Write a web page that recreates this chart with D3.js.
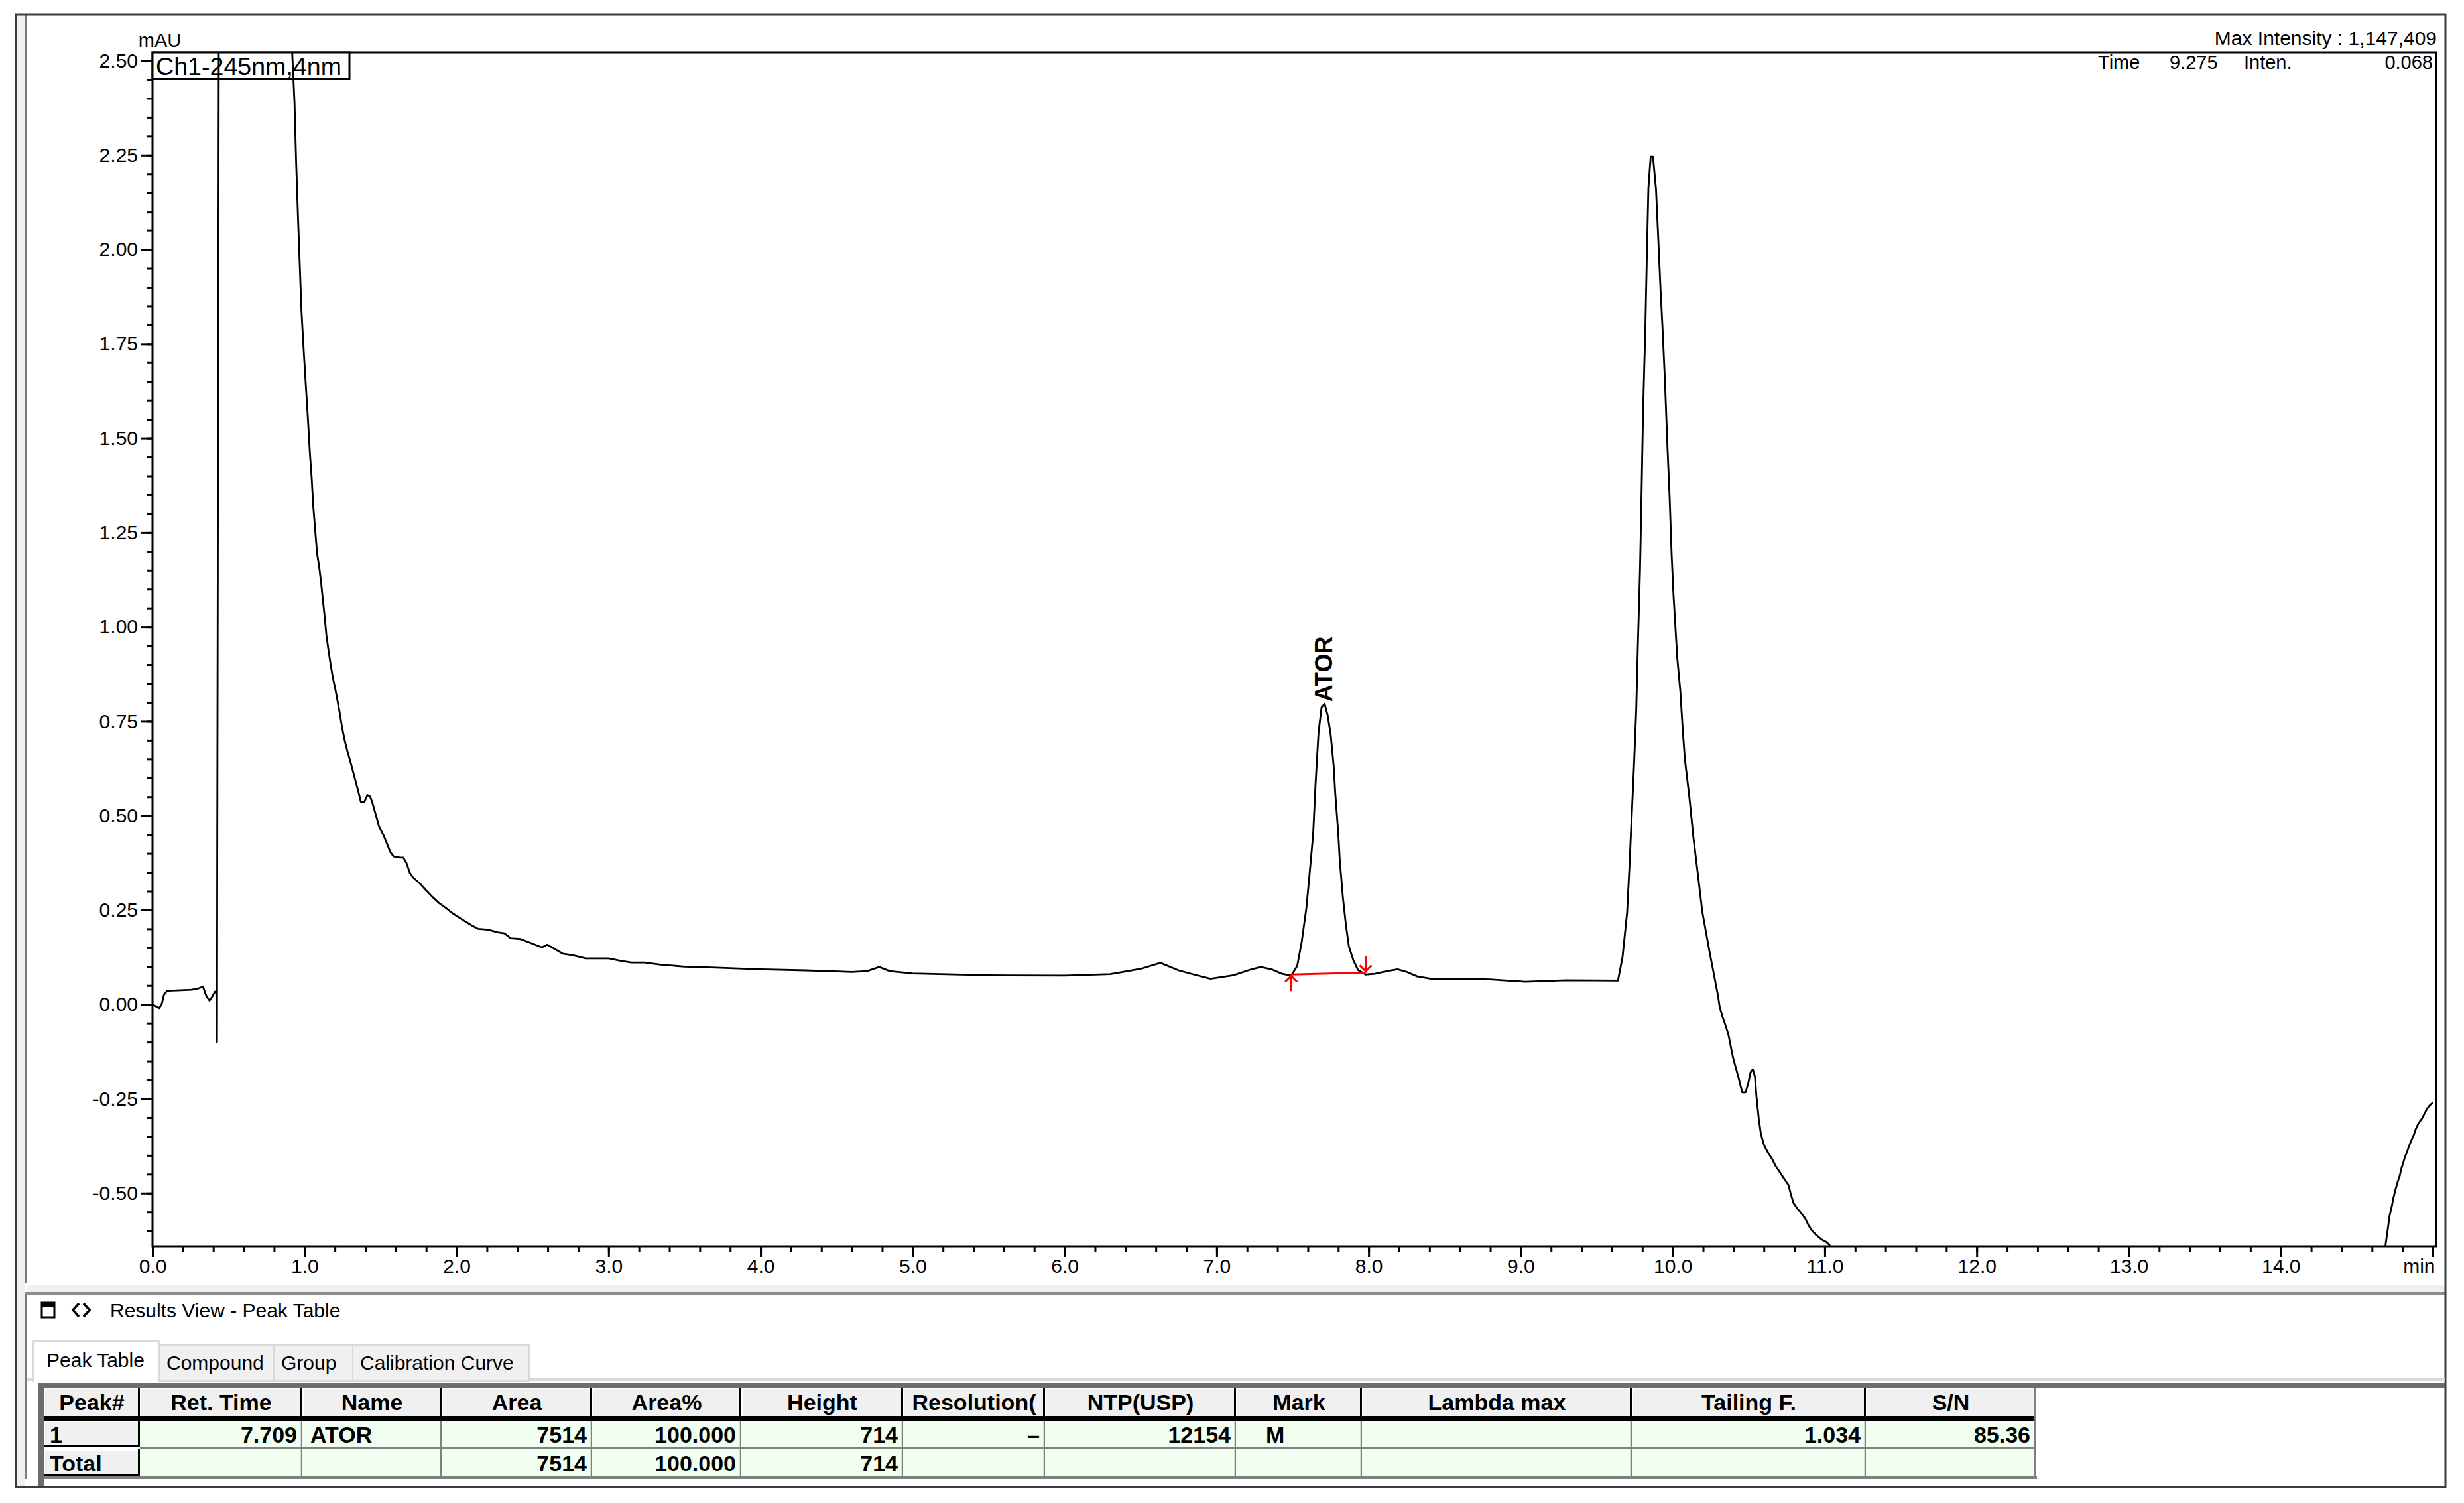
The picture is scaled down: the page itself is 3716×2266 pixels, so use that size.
<!DOCTYPE html>
<html>
<head>
<meta charset="utf-8">
<script src="https://cdn.jsdelivr.net/npm/d3@7/dist/d3.min.js"></script>
<style>
html,body{margin:0;padding:0;background:#fff;overflow:hidden;}
svg{display:block;}
</style>
</head>
<body>
<svg id="root" width="3716" height="2266"></svg>
<script>
// ---------------- DATA ----------------
const timeMin = [
0.000,0.043,0.060,0.075,0.096,0.160,0.257,0.300,0.332,0.354,0.375,0.395,0.411,0.420,0.424,0.426,0.438,0.900,
0.919,0.934,0.945,0.957,0.969,0.980,0.995,1.008,1.021,1.035,1.047,1.057,1.070,1.083,1.097,1.110,1.120,1.131,
1.144,1.158,1.171,1.185,1.200,1.214,1.232,1.246,1.264,1.286,1.307,1.328,1.350,1.371,1.393,1.414,1.431,1.446,
1.468,1.489,1.521,1.543,1.564,1.586,1.628,1.650,1.671,1.693,1.714,1.757,1.800,1.843,1.886,1.928,1.971,2.036,
2.100,2.143,2.207,2.271,2.314,2.357,2.421,2.486,2.561,2.597,2.657,2.700,2.764,2.850,3.000,3.086,3.150,3.235,
3.343,3.500,3.650,4.000,4.300,4.600,4.700,4.780,4.850,5.000,5.500,6.000,6.300,6.500,6.630,6.750,6.850,6.960,
7.110,7.230,7.290,7.360,7.430,7.490,7.530,7.560,7.590,7.610,7.635,7.650,7.670,7.690,7.710,7.730,7.750,7.770,
7.780,7.800,7.810,7.830,7.850,7.870,7.900,7.930,7.980,8.040,8.120,8.190,8.250,8.320,8.410,8.580,8.800,9.030,
9.300,9.640,9.670,9.700,9.715,9.730,9.745,9.760,9.770,9.785,9.795,9.805,9.820,9.830,9.840,9.855,9.870,9.890,
9.905,9.920,9.935,9.950,9.965,9.980,9.993,10.005,10.030,10.050,10.065,10.080,10.110,10.135,10.165,10.195,10.240,
10.280,10.297,10.308,10.326,10.348,10.367,10.384,10.399,10.420,10.435,10.457,10.479,10.497,10.512,10.527,10.541,
10.551,10.566,10.580,10.602,10.624,10.653,10.675,10.704,10.733,10.762,10.777,10.794,10.820,10.849,10.871,10.893,
10.915,10.944,10.980,11.009,11.031,11.060,14.670,14.689,14.703,14.715,14.730,14.740,14.754,14.769,14.783,14.793,
14.805,14.815,14.830,14.845,14.860,14.874,14.888,14.906,14.928,14.942,14.961,14.978,15.000
];
const intensity = [
0.000,-0.010,0.000,0.025,0.036,0.037,0.039,0.042,0.047,0.022,0.010,0.022,0.034,0.030,-0.100,0.440,3.000,3.000,
2.520,2.389,2.228,2.086,1.954,1.835,1.729,1.643,1.560,1.462,1.394,1.322,1.257,1.193,1.157,1.114,1.074,1.033,
0.977,0.937,0.902,0.868,0.840,0.811,0.771,0.736,0.700,0.665,0.635,0.603,0.570,0.536,0.536,0.555,0.551,0.535,
0.503,0.472,0.447,0.425,0.404,0.392,0.389,0.389,0.374,0.348,0.336,0.321,0.302,0.284,0.268,0.256,0.242,0.225,
0.209,0.200,0.198,0.191,0.188,0.175,0.173,0.163,0.151,0.158,0.144,0.134,0.130,0.122,0.122,0.115,0.111,0.111,
0.105,0.100,0.098,0.093,0.090,0.086,0.088,0.099,0.088,0.082,0.077,0.076,0.080,0.094,0.110,0.090,0.079,0.068,
0.077,0.093,0.099,0.093,0.081,0.076,0.102,0.167,0.255,0.340,0.452,0.580,0.720,0.787,0.796,0.766,0.715,0.630,
0.560,0.452,0.380,0.285,0.211,0.153,0.116,0.091,0.079,0.081,0.088,0.093,0.086,0.074,0.068,0.068,0.066,0.060,
0.064,0.063,0.126,0.244,0.362,0.497,0.630,0.780,0.940,1.153,1.355,1.573,1.793,1.986,2.162,2.246,2.246,2.160,
2.028,1.893,1.775,1.640,1.480,1.340,1.190,1.086,0.917,0.830,0.733,0.649,0.547,0.446,0.346,0.244,0.144,
0.060,0.025,-0.005,-0.031,-0.057,-0.081,-0.116,-0.145,-0.175,-0.198,-0.233,-0.233,-0.209,-0.180,-0.172,-0.192,
-0.245,-0.303,-0.344,-0.374,-0.391,-0.409,-0.427,-0.444,-0.462,-0.479,-0.503,-0.526,-0.541,-0.555,-0.567,-0.585,
-0.599,-0.611,-0.623,-0.629,-0.637,-0.680,-0.680,-0.637,-0.597,-0.561,-0.535,-0.514,-0.491,-0.470,-0.453,-0.435,
-0.420,-0.406,-0.391,-0.374,-0.359,-0.347,-0.330,-0.315,-0.303,-0.292,-0.277,-0.268,-0.260
];
const yTickLabels = ["-0.50","-0.25","0.00","0.25","0.50","0.75","1.00","1.25","1.50","1.75","2.00","2.25","2.50"];
const xTickLabels = ["0.0","1.0","2.0","3.0","4.0","5.0","6.0","7.0","8.0","9.0","10.0","11.0","12.0","13.0","14.0","min"];
const xDomain = [0, 15];
const yDomain = [-0.641, 2.522];
const peakNames = ["ATOR"];
const peakTimes = [7.709];
const peakApex = [0.796];
const baselineTimes = [7.49, 7.98];
const baselineValues = [0.079, 0.084];

const channelLabel = "Ch1-245nm,4nm";
const maxIntensityText = "Max Intensity : 1,147,409";
const cursorTexts = ["Time", "9.275", "Inten.", "0.068"];

const tabNames = ["Peak Table", "Compound", "Group", "Calibration Curve"];
const tableHeaders = ["Peak#","Ret. Time","Name","Area","Area%","Height","Resolution(","NTP(USP)","Mark","Lambda max","Tailing F.","S/N"];
const tableRow1 = ["1","7.709","ATOR","7514","100.000","714","\u2013","12154","M","","1.034","85.36"];
const tableRowTotal = ["Total","","","7514","100.000","714","","","","","",""];
const columnAlign = ["left","right","left","right","right","right","right","right","left","right","right","right"];

// ---------------- LAYOUT ----------------
const FONT = "'Liberation Sans', Arial, Helvetica, sans-serif";
const plot = {left: 230, top: 79, right: 3669, bottom: 1879, frameRight: 3674};
const colEdges = [66, 211, 456, 666, 893, 1118, 1362, 1576, 1864, 2054, 2461, 2814, 3070];
const colPad = [9, 8, 12, 8, 8, 8, 8, 8, 45, 8, 8, 8];

const svg = d3.select("#root").attr("font-family", FONT);

svg.append("rect").attr("width", 3716).attr("height", 2266).attr("fill", "#fff");

// window chrome
svg.append("rect").attr("x", 25).attr("y", 23).attr("width", 12).attr("height", 2218).attr("fill", "#f0f0f0");
svg.append("rect").attr("x", 37).attr("y", 23).attr("width", 4).attr("height", 1912).attr("fill", "#7a7a7a");
svg.append("rect").attr("x", 37).attr("y", 1952).attr("width", 4).attr("height", 278).attr("fill", "#7a7a7a");
svg.append("rect").attr("x", 41).attr("y", 1937).attr("width", 3646).attr("height", 11).attr("fill", "#f0f0f0");
svg.append("rect").attr("x", 37).attr("y", 1948).attr("width", 3650).attr("height", 4).attr("fill", "#8c8c8c");
svg.append("rect").attr("x", 24).attr("y", 22).attr("width", 3664).attr("height", 2220)
  .attr("fill", "none").attr("stroke", "#3c3c3c").attr("stroke-width", 3);

// ---------------- CHART ----------------
const x = d3.scaleLinear().domain(xDomain).range([plot.left, plot.right]);
const y = d3.scaleLinear().domain(yDomain).range([plot.bottom, plot.top]);

// frame
svg.append("rect").attr("x", plot.left).attr("y", plot.top)
  .attr("width", plot.frameRight - plot.left).attr("height", plot.bottom - plot.top)
  .attr("fill", "none").attr("stroke", "#000").attr("stroke-width", 3);

// channel label box
const chG = svg.append("g");
chG.append("rect").attr("x", plot.left).attr("y", plot.top).attr("width", 297).attr("height", 40)
  .attr("fill", "#fff").attr("stroke", "#000").attr("stroke-width", 3);
chG.append("text").attr("x", plot.left + 5).attr("y", plot.top + 34).attr("font-size", 37)
  .attr("textLength", 280).attr("lengthAdjust", "spacingAndGlyphs").text(channelLabel);

// trace
svg.append("clipPath").attr("id", "plotClip").append("rect")
  .attr("x", plot.left).attr("y", plot.top).attr("width", plot.frameRight - plot.left).attr("height", plot.bottom - plot.top);
const points = timeMin.map((t, i) => ({t, v: intensity[i]}));
const line = d3.line().x(d => x(d.t)).y(d => y(d.v));
svg.append("path").datum(points).attr("clip-path", "url(#plotClip)")
  .attr("d", line).attr("fill", "none").attr("stroke", "#000").attr("stroke-width", 2.8)
  .attr("stroke-linejoin", "round");

// baseline (red)
const bl = baselineTimes.map((t, i) => ({t, v: baselineValues[i]}));
svg.append("path").datum(bl).attr("d", line).attr("fill", "none").attr("stroke", "#ff0000").attr("stroke-width", 3);
// start marker (arrow pointing up)
const sx = x(bl[0].t), sy = y(bl[0].v);
svg.append("path").attr("d", `M${sx},${sy} V${sy + 25} M${sx - 9},${sy + 11} L${sx},${sy + 2} L${sx + 9},${sy + 11}`)
  .attr("fill", "none").attr("stroke", "#ff0000").attr("stroke-width", 3);
// end marker (arrow pointing down)
const ex = x(bl[1].t), ey = y(bl[1].v);
svg.append("path").attr("d", `M${ex},${ey} V${ey - 25} M${ex - 9},${ey - 11} L${ex},${ey - 2} L${ex + 9},${ey - 11}`)
  .attr("fill", "none").attr("stroke", "#ff0000").attr("stroke-width", 3);

// peak label
peakNames.forEach((name, i) => {
  svg.append("text")
    .attr("transform", `translate(${x(peakTimes[i]) + 12},${y(peakApex[i]) - 3}) rotate(-90)`)
    .attr("font-size", 36).attr("font-weight", "bold").attr("text-anchor", "start").text(name);
});

// y axis
const yMajor = yTickLabels.map(Number);
const yMinor = d3.range(-12, 51).map(i => +(i * 0.05).toFixed(2)).filter(v => v >= yDomain[0] && v <= yDomain[1]);
const yMinG = svg.append("g").attr("transform", `translate(${plot.left},0)`)
  .call(d3.axisLeft(y).tickValues(yMinor).tickSize(9).tickFormat(""));
const yMajG = svg.append("g").attr("transform", `translate(${plot.left},0)`)
  .call(d3.axisLeft(y).tickValues(yMajor).tickSize(18).tickPadding(4).tickFormat((d, i) => yTickLabels[i]));
[yMinG, yMajG].forEach(g => {
  g.select(".domain").remove();
  g.selectAll("line").attr("stroke", "#000").attr("stroke-width", 3);
  g.attr("font-family", FONT).attr("font-size", 30);
  g.selectAll("text").attr("fill", "#000");
});

// x axis
const xMajor = d3.range(0, 16);
const xMinor = d3.range(0, 76).map(i => +(i * 0.2).toFixed(1));
const xMinG = svg.append("g").attr("transform", `translate(0,${plot.bottom})`)
  .call(d3.axisBottom(x).tickValues(xMinor).tickSize(8).tickFormat(""));
const xMajG = svg.append("g").attr("transform", `translate(0,${plot.bottom})`)
  .call(d3.axisBottom(x).tickValues(xMajor).tickSize(16).tickPadding(3).tickFormat((d, i) => xTickLabels[i]));
[xMinG, xMajG].forEach(g => {
  g.select(".domain").remove();
  g.selectAll("line").attr("stroke", "#000").attr("stroke-width", 3);
  g.attr("font-family", FONT).attr("font-size", 30);
  g.selectAll("text").attr("fill", "#000");
});
xMajG.selectAll(".tick").filter((d, i) => i === xTickLabels.length - 1)
  .select("text").attr("text-anchor", "end").attr("x", 3);

// unit label
svg.append("text").attr("x", 241).attr("y", 71).attr("font-size", 29).attr("text-anchor", "middle").text("mAU");

// top-right texts
svg.append("text").attr("x", 3675).attr("y", 68).attr("font-size", 30).attr("text-anchor", "end").text(maxIntensityText);
const cursorX = [3164, 3272, 3384, 3669];
const cursorAnchor = ["start", "start", "start", "end"];
cursorTexts.forEach((t, i) => {
  svg.append("text").attr("x", cursorX[i]).attr("y", 104).attr("font-size", 29)
    .attr("text-anchor", cursorAnchor[i]).text(t);
});

// ---------------- RESULTS PANEL ----------------
// header icons
svg.append("rect").attr("x", 63).attr("y", 1964).attr("width", 19).attr("height", 22)
  .attr("fill", "#fff").attr("stroke", "#000").attr("stroke-width", 3);
svg.append("rect").attr("x", 63).attr("y", 1964).attr("width", 19).attr("height", 6).attr("fill", "#000");
svg.append("path").attr("d", "M119,1965 L110,1975 L119,1985 M126,1965 L135,1975 L126,1985")
  .attr("fill", "none").attr("stroke", "#000").attr("stroke-width", 3.5);
svg.append("text").attr("x", 166).attr("y", 1986).attr("font-size", 30).text("Results View - Peak Table");

// tabs
const tabEdges = [50, 240, 413, 532, 798];
svg.append("rect").attr("x", 41).attr("y", 2078).attr("width", 3646).attr("height", 4).attr("fill", "#d9d9d9");
tabNames.forEach((name, i) => {
  const active = i === 0;
  const x0 = tabEdges[i], x1 = tabEdges[i + 1];
  const top = active ? 2022 : 2028;
  svg.append("rect").attr("x", x0).attr("y", top).attr("width", x1 - x0).attr("height", 2082 - top)
    .attr("fill", active ? "#fff" : "#f0f0f0").attr("stroke", "#d9d9d9").attr("stroke-width", 2);
  svg.append("text").attr("x", x0 + (active ? 20 : 11)).attr("y", active ? 2061 : 2065)
    .attr("font-size", 30).text(name);
});
svg.append("rect").attr("x", 51).attr("y", 2076).attr("width", 188).attr("height", 8).attr("fill", "#fff");

// table
svg.append("rect").attr("x", 58).attr("y", 2085).attr("width", 3629).attr("height", 7).attr("fill", "#6d6d6d");
svg.append("rect").attr("x", 58).attr("y", 2085).attr("width", 8).attr("height", 2157 - 2085 + 84).attr("fill", "#6d6d6d");

const rows = [
  {cells: tableHeaders, top: 2092, bottom: 2138, base: 2126, header: true},
  {cells: tableRow1, top: 2142, bottom: 2182, base: 2175, header: false},
  {cells: tableRowTotal, top: 2185, bottom: 2225, base: 2218, header: false}
];
const tbl = svg.append("g");
rows.forEach(r => {
  r.cells.forEach((txt, c) => {
    const x0 = colEdges[c], x1 = colEdges[c + 1];
    const gray = r.header || c === 0;
    tbl.append("rect").attr("x", x0).attr("y", r.top).attr("width", x1 - x0).attr("height", r.bottom - r.top)
      .attr("fill", gray ? "#f0f0f0" : "#f0fff0");
    if (gray) {
      tbl.append("path").attr("d", `M${x0 + 1},${r.bottom - 1} V${r.top + 1} H${x1 - 2}`)
        .attr("fill", "none").attr("stroke", "#fff").attr("stroke-width", 2);
      tbl.append("path").attr("d", `M${x0},${r.bottom - 1.5} H${x1 - 1.5} V${r.top}`)
        .attr("fill", "none").attr("stroke", "#000").attr("stroke-width", 3);
    } else {
      tbl.append("path").attr("d", `M${x1 - 1},${r.top} V${r.bottom + 2}`)
        .attr("fill", "none").attr("stroke", "#808080").attr("stroke-width", 2.5);
    }
    if (txt !== "") {
      let tx, anchor;
      if (r.header) { tx = (x0 + x1) / 2; anchor = "middle"; }
      else if (columnAlign[c] === "left") { tx = x0 + colPad[c]; anchor = "start"; }
      else { tx = x1 - colPad[c]; anchor = "end"; }
      tbl.append("text").attr("x", tx).attr("y", r.base).attr("text-anchor", anchor)
        .attr("font-size", 34).attr("font-weight", "bold").text(txt);
    }
  });
});
// header bottom border
tbl.append("rect").attr("x", 66).attr("y", 2138).attr("width", 3004).attr("height", 4).attr("fill", "#000");
// row separators
tbl.append("rect").attr("x", 211).attr("y", 2182).attr("width", 2859).attr("height", 3).attr("fill", "#808080");
tbl.append("rect").attr("x", 66).attr("y", 2225).attr("width", 3006).attr("height", 5).attr("fill", "#808080");
tbl.append("rect").attr("x", 3068).attr("y", 2092).attr("width", 3).attr("height", 138).attr("fill", "#808080");
</script>
</body>
</html>
